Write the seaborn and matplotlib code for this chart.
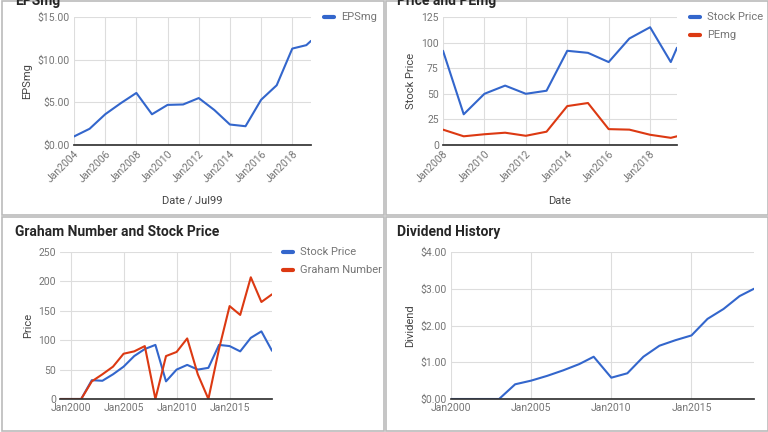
import pandas as pd
import numpy as np
import seaborn as sns
from matplotlib import pyplot as plt
from matplotlib.patches import Rectangle
from matplotlib.ticker import FuncFormatter

# EPSmg panel
eps_years = [2004, 2005, 2006, 2007, 2008, 2009, 2010, 2011, 2012, 2013, 2014, 2015, 2016, 2017, 2018, 2018.9, 2019.2]
eps_values = [1.0, 1.9, 3.6, 4.9, 6.1, 3.6, 4.7, 4.75, 5.5, 4.1, 2.4, 2.2, 5.3, 7.0, 11.3, 11.7, 12.2]

# Price and PEmg panel
pe_years = [2008, 2009, 2010, 2011, 2012, 2013, 2014, 2015, 2016, 2017, 2018, 2019, 2019.3]
pe_price = [92, 30, 50, 58, 50, 53, 92, 90, 81, 104, 115, 81, 95]
pe_values = [15, 8.5, 10.5, 12, 9, 13, 38, 41, 15.5, 15, 10, 7, 8.5]

# Graham panel
gr_years = list(range(1999, 2020))
gr_price = [0, 0, 0, 32, 31, 42, 55, 73, 85, 92, 30, 50, 58, 50, 53, 92, 90, 81, 104, 115, 82]
gr_graham = [0, 0, 0, 30, 42, 55, 77, 81, 90, 0, 73, 80, 103, 42, 0, 85, 158, 143, 207, 165, 178]

# Dividend panel
div_years = [2000, 2001, 2002, 2003, 2004, 2005, 2006, 2007, 2008, 2008.9, 2010, 2011, 2012, 2013, 2014, 2015, 2016, 2017, 2018, 2018.9]
div_values = [0, 0, 0, 0, 0.4, 0.5, 0.63, 0.78, 0.95, 1.15, 0.58, 0.7, 1.15, 1.45, 1.6, 1.73, 2.18, 2.45, 2.8, 3.0]

BLUE = "#3366cc"
RED = "#dc3912"
GREY = "#757575"

sns.set_theme(style="whitegrid", rc={"grid.color": "#dddddd", "font.family": "Roboto"})
fig = plt.figure(figsize=(7.68, 4.32), dpi=100)
W, H = 768, 432

# panel frames
for x0, y0 in [(0, 0), (384, 0), (0, 216), (384, 216)]:
    fig.patches.append(Rectangle((x0 / W + 0.002, 1 - (y0 + 215) / H), 382 / W, 214 / H,
                                 transform=fig.transFigure, fill=False, edgecolor="#bbbbbb", lw=1.2))

def make_ax(x1, y1, x2, y2):
    return fig.add_axes([x1 / W, 1 - y2 / H, (x2 - x1) / W, (y2 - y1) / H])

def style(ax, xlabel, ylabel, rot, xpad):
    ax.set_xlabel(xlabel, fontsize=8, color="#444444", labelpad=xpad)
    ax.set_ylabel(ylabel, fontsize=8, color="#444444")
    ax.tick_params(axis="both", labelsize=7.5, colors=GREY, length=0, pad=3)
    for lab in ax.get_xticklabels():
        lab.set_rotation(rot)
        if rot:
            lab.set_ha("right")
            lab.set_rotation_mode("anchor")
    for s in ["top", "right", "left"]:
        ax.spines[s].set_visible(False)
    ax.spines["bottom"].set_color("#333333")
    ax.grid(True, color="#dddddd", lw=0.8)

def legend(x, y, entries):
    for i, (name, c) in enumerate(entries):
        yy = y + i * 18
        fig.add_artist(plt.Line2D([x / W, (x + 10) / W], [1 - yy / H] * 2, color=c, lw=3))
        fig.text((x + 17) / W, 1 - yy / H, name, fontsize=8, color=GREY, va="center")

jan = FuncFormatter(lambda v, p: f"Jan{int(v)}")
dollar = FuncFormatter(lambda v, p: f"${v:.2f}")

# panel 1
ax = make_ax(74, 17, 311, 145)
sns.lineplot(x=eps_years, y=eps_values, ax=ax, color=BLUE, lw=1.5)
ax.set_xlim(2004, 2019.2)
ax.set_xticks(range(2004, 2019, 2))
ax.xaxis.set_major_formatter(jan)
ax.set_ylim(0, 15)
ax.set_yticks([0, 5, 10, 15])
ax.yaxis.set_major_formatter(dollar)
style(ax, "Date / Jul99", "EPSmg", 45, 8)
legend(324, 17, [("EPSmg", BLUE)])
fig.text(15 / W, 1 - 1 / H, "EPSmg", fontsize=10, fontweight="bold", va="center")

# panel 2
ax = make_ax(443, 17, 677, 145)
sns.lineplot(x=pe_years, y=pe_price, ax=ax, color=BLUE, lw=1.5)
sns.lineplot(x=pe_years, y=pe_values, ax=ax, color=RED, lw=1.5)
ax.set_xlim(2008, 2019.3)
ax.set_xticks(range(2008, 2019, 2))
ax.xaxis.set_major_formatter(jan)
ax.set_ylim(0, 125)
ax.set_yticks(range(0, 126, 25))
style(ax, "Date", "Stock Price", 45, 8)
legend(690, 17, [("Stock Price", BLUE), ("PEmg", RED)])
fig.text(397 / W, 1 - 1 / H, "Price and PEmg", fontsize=10, fontweight="bold", va="center")

# panel 3
ax = make_ax(60, 252, 272, 399)
sns.lineplot(x=gr_years, y=gr_price, ax=ax, color=BLUE, lw=1.5)
sns.lineplot(x=gr_years, y=gr_graham, ax=ax, color=RED, lw=1.5)
ax.set_xlim(1999, 2019)
ax.set_xticks([2000, 2005, 2010, 2015])
ax.xaxis.set_major_formatter(jan)
ax.set_ylim(0, 250)
ax.set_yticks(range(0, 251, 50))
style(ax, "Date", "Price", 0, 18)
legend(283, 252, [("Stock Price", BLUE), ("Graham Number", RED)])
fig.text(15 / W, 1 - 232 / H, "Graham Number and Stock Price", fontsize=10, fontweight="bold", va="center")

# panel 4
ax = make_ax(451, 252, 754, 399)
sns.lineplot(x=div_years, y=div_values, ax=ax, color=BLUE, lw=1.5)
ax.set_xlim(2000, 2018.9)
ax.set_xticks([2000, 2005, 2010, 2015])
ax.xaxis.set_major_formatter(jan)
ax.set_ylim(0, 4)
ax.set_yticks([0, 1, 2, 3, 4])
ax.yaxis.set_major_formatter(dollar)
style(ax, "Year", "Dividend", 0, 18)
fig.text(397 / W, 1 - 232 / H, "Dividend History", fontsize=10, fontweight="bold", va="center")

fig.savefig("out.png", dpi=100)
